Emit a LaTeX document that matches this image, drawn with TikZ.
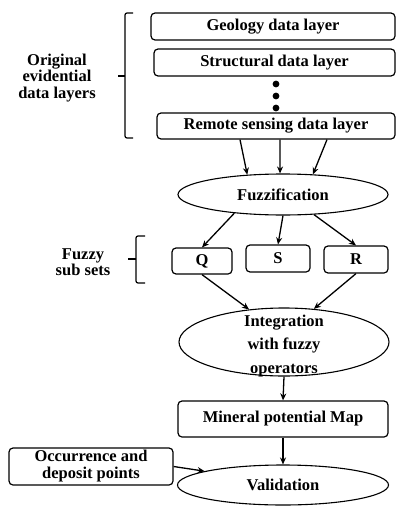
\documentclass[tikz,border=0pt]{standalone}
\usepackage{fontspec}
\setmainfont{Liberation Serif}
\usetikzlibrary{arrows.meta,shapes.geometric}

\begin{document}
\begin{tikzpicture}[x=1pt,y=-1pt,
  box/.style={draw, rounded corners=4pt, line width=1.2pt, inner sep=0pt,
    font=\fontsize{16.5}{17}\selectfont\bfseries, align=center},
  oval/.style={draw, ellipse, line width=1.1pt, inner sep=0pt,
    font=\fontsize{16.5}{17}\selectfont\bfseries},
  lbl/.style={align=center, font=\fontsize{16.5}{16.5}\selectfont\bfseries},
  brk/.style={line width=1.2pt, rounded corners=2pt},
  arr/.style={-{Stealth[length=7pt,width=6pt]}, line width=1.3pt}]
\useasboundingbox (0,0) rectangle (396,506);

% input layers
\node[box, minimum width=244pt, minimum height=27pt] (geo) at (273,26.5) {Geology data layer};
\node[box, minimum width=241pt, minimum height=27pt] (struct) at (274.5,62.5) {Structural data layer};
\foreach \y in {84,96,108}
    \fill (276,\y) circle (3.4pt);
\node[box, minimum width=238pt, minimum height=26pt] (remote) at (276,126) {Remote sensing data layer};
\node[lbl] (orig) at (57,78) {Original\\evidential\\data layers};
\draw[brk] (133,13) -- (125,13) -- (125,138) -- (133,138);
\draw[brk] (118,76) -- (125,76);

% fuzzification and fuzzy sets
\node[oval, minimum width=210pt, minimum height=41pt] (fuzz) at (283,194.5) {Fuzzification};
\node[box, minimum width=60pt, minimum height=26pt] (Q) at (202,261) {Q};
\node[box, minimum width=64pt, minimum height=27pt] (S) at (278,258.5) {S};
\node[box, minimum width=64pt, minimum height=27pt] (R) at (356,259.5) {R};
\node[lbl] (subsets) at (83,262) {Fuzzy\\sub sets};
\draw[brk] (145,236) -- (136,236) -- (136,283) -- (145,283);
\draw[brk] (128,259) -- (136,259);

% integration, map and validation
\node[oval, minimum width=210pt, minimum height=68pt] (integ) at (284,342) {};
\node[lbl, font=\fontsize{16.5}{23.5}\selectfont\bfseries] (integtxt) at (284,346) {Integration\\with fuzzy\\operators};
\node[box, minimum width=210pt, minimum height=36pt] (mineral) at (283,419) {Mineral potential Map};
\node[oval, minimum width=211pt, minimum height=40pt] (valid) at (283,485) {Validation};
\node[box, minimum width=164pt, minimum height=37pt] (occur) at (91,466.5) {Occurrence and\\deposit points};

% arrows
\draw[arr] ([xshift=-36pt]remote.south) -- (fuzz.151);
\draw[arr] ([xshift=4pt]remote.south) -- (fuzz.98);
\draw[arr] ([xshift=51pt]remote.south) -- (fuzz.34);
\draw[arr] (fuzz.201) -- (Q.north);
\draw[arr] (fuzz.south) -- (S.north);
\draw[arr] (fuzz.-33) -- (R.north);
\draw[arr] (Q.south) -- (integ.137);
\draw[arr] (R.south) -- (integ.48);
\draw[arr] (integ.south) -- (mineral.north);
\draw[arr] (mineral.south) -- (valid.north);
\draw[arr] (occur.east) -- (valid.170);
\end{tikzpicture}
\end{document}
